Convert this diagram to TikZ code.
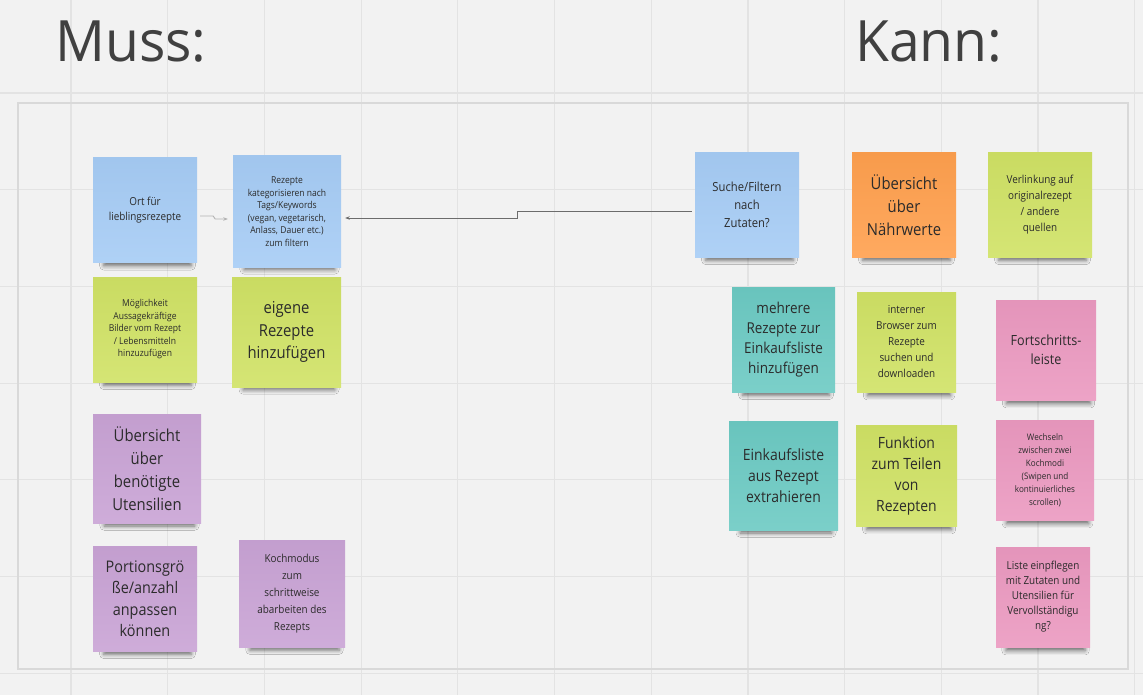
\documentclass[tikz,border=0pt]{standalone}
\usepackage{fontspec}
\setmainfont{Open Sans}[FakeStretch=0.9]
\newfontfamily\headfont{Open Sans}[FakeStretch=0.97]
\usetikzlibrary{positioning,calc,arrows.meta,shadows.blur}

\definecolor{boardbg}{HTML}{F2F2F2}
\definecolor{gridline}{HTML}{E3E3E3}
\definecolor{framegray}{HTML}{D9D9D9}
\definecolor{noteblue}{HTML}{A6CCF5}
\definecolor{notegreen}{HTML}{D0E265}
\definecolor{notepurple}{HTML}{C9A3D5}
\definecolor{noteorange}{HTML}{FFA04E}
\definecolor{noteteal}{HTML}{6CCAC3}
\definecolor{notepink}{HTML}{EB99C0}
\definecolor{ink}{HTML}{2B2B2B}

\tikzset{
  note/.style={inner sep=2pt, align=center, text=ink,
    top color=#1!97!black, bottom color=#1!90!white,
    blur shadow={shadow xshift=3pt, shadow yshift=-14pt, shadow scale=0.84,
      shadow opacity=55, shadow blur radius=5pt}},
  sz/.style 2 args={minimum width=#1, minimum height=#2},
  fsize/.style 2 args={font=\fontsize{#1}{#2}\selectfont},
  title/.style={font=\headfont\fontsize{57}{57}\selectfont, text=ink!90, anchor=base west, inner sep=0pt},
  conn/.style={draw=gray!85!black, line width=0.9pt, -{Stealth[length=4.5pt,width=3.5pt]}},
}

\begin{document}
\begin{tikzpicture}[x=1pt,y=-1pt]
    % Board
    \fill[boardbg] (0,0) rectangle (1143,695);
    \useasboundingbox (0,0) rectangle (1143,695);
    \foreach \gx in {0,...,11}
        \draw[gridline, line width=1.2pt] ({71+96.7*\gx},0) -- ++(0,695);
    \foreach \gy in {0,...,6}
        \draw[gridline, line width=1.2pt] (0,{93+96.7*\gy}) -- ++(1143,0);
    \draw[framegray, line width=1.4pt] (18,103) rectangle (1128,669);

    % Headings
    \node[title] (muss) at (55,62) {Muss:};
    \node[title] (kann) at (855,62) {Kann:};

    % Muss notes
    \node[note=noteblue, sz={104pt}{105pt}, fsize={11}{15}] (ort) at (145,210)
        {Ort für\\lieblingsrezepte};
    \node[note=noteblue, sz={108pt}{111pt}, fsize={9.5}{12.5}] (kat) at (287,211.5)
        {Rezepte\\kategorisieren nach\\Tags/Keywords\\(vegan, vegetarisch,\\Anlass, Dauer etc.)\\zum filtern};
    \node[note=notegreen, sz={104pt}{105pt}, fsize={9.5}{12.5}] (moeg) at (145,329.5)
        {Möglichkeit\\Aussagekräftige\\Bilder vom Rezept\\/ Lebensmitteln\\hinzuzufügen};
    \node[note=notegreen, sz={109pt}{110pt}, fsize={16.5}{22.5}] (eigene) at (286.5,332)
        {eigene\\Rezepte\\hinzufügen};
    \node[note=notepurple, sz={108pt}{109pt}, fsize={16.5}{23}] (utens) at (147,468.5)
        {Übersicht\\über\\benötigte\\Utensilien};
    \node[note=notepurple, sz={104pt}{105pt}, fsize={16}{21.5}] (portion) at (145,598.5)
        {Portionsgrö\\ße/anzahl\\anpassen\\können};
    \node[note=notepurple, sz={106pt}{107pt}, fsize={11}{17}] (koch) at (292,593.5)
        {Kochmodus\\zum\\schrittweise\\abarbeiten des\\Rezepts};

    % Kann notes
    \node[note=noteblue, sz={104pt}{104pt}, fsize={12.5}{18}] (suche) at (747,205)
        {Suche/Filtern\\nach\\Zutaten?};
    \node[note=noteorange, sz={104pt}{104pt}, fsize={16.5}{23}] (naehr) at (904,205)
        {Übersicht\\über\\Nährwerte};
    \node[note=notegreen, sz={104pt}{104pt}, fsize={11}{16}] (verl) at (1040,205)
        {Verlinkung auf\\originalrezept\\/ andere\\quellen};
    \node[note=noteteal, sz={103pt}{105pt}, fsize={15}{20}] (mehr) at (783.5,339.5)
        {mehrere\\Rezepte zur\\Einkaufsliste\\hinzufügen};
    \node[note=notegreen, sz={99pt}{100pt}, fsize={11}{16}] (browser) at (906.5,342)
        {interner\\Browser zum\\Rezepte\\suchen und\\downloaden};
    \node[note=notepink, sz={100pt}{100pt}, fsize={14}{19}] (fort) at (1046,350)
        {Fortschritts-\\leiste};
    \node[note=noteteal, sz={109pt}{109pt}, fsize={15.5}{21}] (einkauf) at (783.5,475.5)
        {Einkaufsliste\\aus Rezept\\extrahieren};
    \node[note=notegreen, sz={101pt}{101pt}, fsize={15.5}{21}] (funktion) at (906.5,475.5)
        {Funktion\\zum Teilen\\von\\Rezepten};
    \node[note=notepink, sz={98pt}{100pt}, fsize={9}{13}] (wechseln) at (1045,470)
        {Wechseln\\zwischen zwei\\Kochmodi\\(Swipen und\\kontinuierliches\\scrollen)};
    \node[note=notepink, sz={94pt}{100pt}, fsize={11}{15}] (liste) at (1043,597)
        {Liste einpflegen\\mit Zutaten und\\Utensilien für\\Vervollständigu\\ng?};

    % Connectors
    \draw[conn, draw=gray!60] ($(ort.east)+(3,6)$) -- ++(13,0) -- ++(2,3)
        -- ($(kat.west)+(-5,7.5)$);
    \draw[conn] ($(suche.west)+(-3,6)$) -- ++(-174,0) |- ($(kat.east)+(4,6.5)$);
\end{tikzpicture}
\end{document}
